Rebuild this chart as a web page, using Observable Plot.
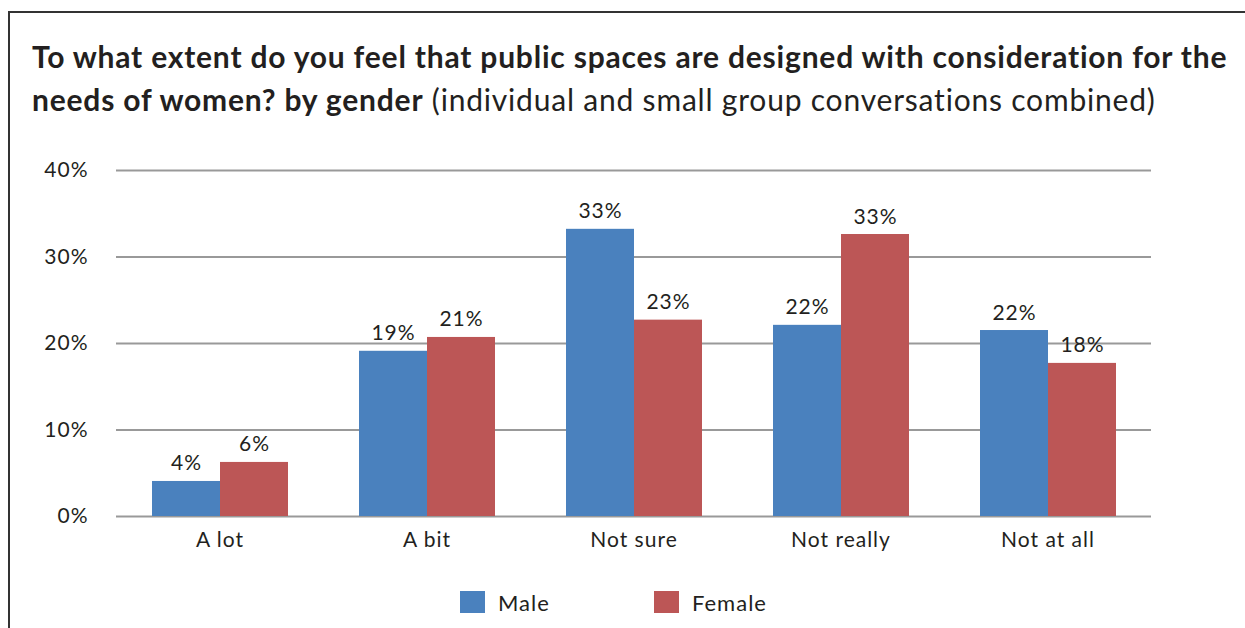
<!DOCTYPE html>
<html>
<head>
<meta charset="utf-8">
<script src="https://cdn.jsdelivr.net/npm/d3@7"></script>
<script src="https://cdn.jsdelivr.net/npm/@observablehq/plot@0.6"></script>
<style>
  html, body { margin: 0; padding: 0; background: #fff; }
  body { width: 1245px; height: 628px; position: relative; overflow: hidden; font-family: Lato, "Open Sans", sans-serif; color: #231f20; }
  #frame { position: absolute; left: 8px; top: 11px; width: 1300px; height: 700px; border-left: 2px solid #333; border-top: 2px solid #333; box-sizing: border-box; }
  #title { position: absolute; left: 32px; top: 35px; font-size: 30px; line-height: 43px; letter-spacing: 0.8px; white-space: nowrap; }
  #title b { font-weight: 700; }
  #chart { position: absolute; left: 0; top: 140px; }
  #chart text { letter-spacing: 1px; }
  #legend { position: absolute; top: 589px; left: 0; width: 1245px; font-size: 22px; letter-spacing: 1px; }
  .item { position: absolute; top: 0; display: flex; align-items: center; height: 26px; }
  .sw { width: 25px; height: 22px; margin-right: 13px; }
</style>
</head>
<body>
<div id="frame"></div>
<div id="title"><b>To what extent do you feel that public spaces are designed with consideration for the</b><br><b>needs of women? by gender</b> (individual and small group conversations combined)</div>
<div id="chart"></div>
<div id="legend"></div>
<script>
const categories = ["A lot", "A bit", "Not sure", "Not really", "Not at all"];
const genders = ["Male", "Female"];
const male = [4.05, 19.1, 33.2, 22.1, 21.5];
const female = [6.25, 20.7, 22.7, 32.6, 17.7];
const maleLabels = ["4%", "19%", "33%", "22%", "22%"];
const femaleLabels = ["6%", "21%", "23%", "33%", "18%"];
const yTicks = [0, 10, 20, 30, 40];
const colors = ["#4a81be", "#bc5656"];

const data = [];
categories.forEach((c, i) => {
  data.push({category: c, gender: "Male", value: male[i], label: maleLabels[i]});
  data.push({category: c, gender: "Female", value: female[i], label: femaleLabels[i]});
});

const chart = Plot.plot({
  width: 1200,
  height: 420,
  marginLeft: 115,
  marginRight: 49,
  marginTop: 30,
  marginBottom: 44,
  style: {fontFamily: "Lato, 'Open Sans', sans-serif", color: "#231f20", background: "transparent"},
  fx: {domain: categories, paddingInner: 0, paddingOuter: 0, label: null, axis: null},
  x: {domain: genders, paddingInner: 0, paddingOuter: 0.511, axis: null},
  y: {domain: [0, 40], axis: null},
  color: {domain: genders, range: colors},
  marks: [
    Plot.ruleY(yTicks, {stroke: "#999", strokeWidth: 2.2}),
    Plot.barY(data, {fx: "category", x: "gender", y: "value", fill: "gender"}),
    Plot.text(data, {fx: "category", x: "gender", y: "value", text: "label", lineAnchor: "bottom", dy: -11, fontSize: 21, fill: "#231f20"}),
    Plot.axisY(yTicks, {anchor: "left", tickSize: 0, tickPadding: 28, fontSize: 21, tickFormat: d => d + "%", fill: "#231f20", label: null}),
    Plot.axisFx({anchor: "bottom", tickSize: 0, tickPadding: 16, fontSize: 21, fill: "#231f20", label: null})
  ]
});
document.getElementById("chart").appendChild(chart);

const legend = document.getElementById("legend");
const legendX = [460, 654];
genders.forEach((g, i) => {
  const it = document.createElement("div");
  it.className = "item";
  it.style.left = legendX[i] + "px";
  const sw = document.createElement("div");
  sw.className = "sw";
  sw.style.background = colors[i];
  it.appendChild(sw);
  const t = document.createElement("span");
  t.textContent = g;
  it.appendChild(t);
  legend.appendChild(it);
});
</script>
</body>
</html>
